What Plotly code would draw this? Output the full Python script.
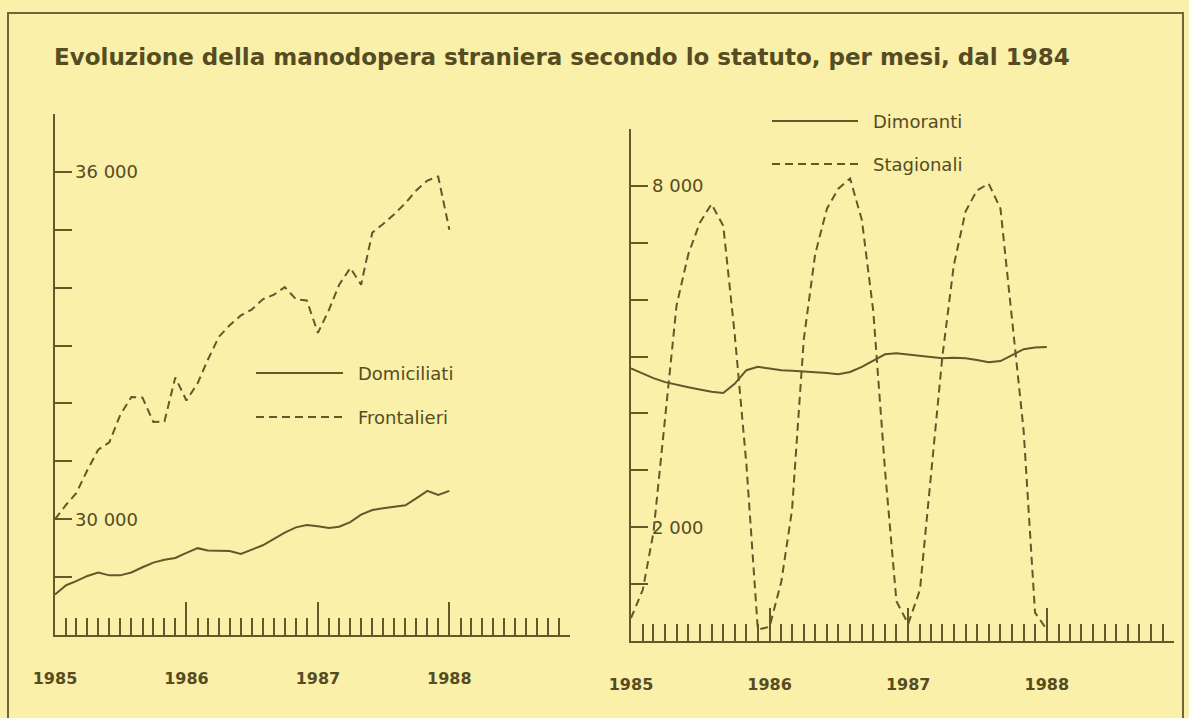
import pandas as pd
import plotly.graph_objects as go

# monthly observations, Jan 1985 - Jan 1988
months = pd.date_range("1985-01-01", periods=37, freq="MS")

domiciliati = [28700, 28860, 28930, 29020, 29080, 29030, 29030, 29080, 29170, 29250,
               29300, 29330, 29420, 29500, 29460, 29450, 29450, 29400, 29480, 29550,
               29660, 29770, 29860, 29900, 29880, 29850, 29870, 29950, 30080, 30160,
               30190, 30220, 30240, 30360, 30490, 30420, 30490]
frontalieri = [30000, 30250, 30450, 30850, 31200, 31330, 31800, 32110, 32100, 31680,
               31690, 32450, 32050, 32350, 32750, 33150, 33350, 33520, 33620, 33800,
               33880, 34010, 33800, 33780, 33220, 33620, 34050, 34340, 34050, 34950,
               35100, 35270, 35460, 35680, 35850, 35920, 35000]
dimoranti = [4790, 4700, 4620, 4550, 4500, 4460, 4420, 4380, 4360, 4520,
             4760, 4820, 4790, 4760, 4750, 4740, 4720, 4710, 4690, 4730,
             4820, 4930, 5040, 5060, 5040, 5010, 4990, 4970, 4980, 4970,
             4940, 4900, 4920, 5030, 5130, 5160, 5170]
stagionali = [400, 900, 1900, 3900, 5900, 6800, 7350, 7680, 7300, 5400,
              3100, 200, 250, 1050, 2300, 5300, 6800, 7600, 7950, 8130,
              7400, 5800, 3000, 700, 300, 900, 2900, 5000, 6600, 7550,
              7920, 8040, 7600, 5700, 3700, 500, 200]

# y labels are written inside the frame, to the right of the ticks
left_labelled = [30000, 36000]
left_labels = ["30 000", "36 000"]
right_labelled = [2000, 8000]
right_labels = ["2 000", "8 000"]

title = "Evoluzione della manodopera straniera secondo lo statuto, per mesi, dal 1984"

W, H = 1189, 718
BG = "#faf0a9"
INK = "#62582a"
TXT = "#564c22"


def px_x(p):
    return p / W


def px_y(p):
    return 1 - p / H


fig = go.Figure()

line = dict(color=INK, width=2)
dash = dict(color=INK, width=2, dash="8px,5px")

fig.add_trace(go.Scatter(x=months, y=domiciliati, mode="lines", line=line,
                         name="Domiciliati", xaxis="x", yaxis="y"))
fig.add_trace(go.Scatter(x=months, y=frontalieri, mode="lines", line=dash,
                         name="Frontalieri", xaxis="x", yaxis="y"))
fig.add_trace(go.Scatter(x=months, y=dimoranti, mode="lines", line=line,
                         name="Dimoranti", xaxis="x2", yaxis="y2"))
fig.add_trace(go.Scatter(x=months, y=stagionali, mode="lines", line=dash,
                         name="Stagionali", xaxis="x2", yaxis="y2"))

xcommon = dict(
    type="date", range=["1985-01-01", "1988-12-01"], automargin=False,
    showline=True, linecolor=INK, linewidth=2, showgrid=False, zeroline=False,
    tickmode="linear", tick0="1985-01-01", dtick="M12", tickformat="%Y",
    ticks="inside", ticklen=33, tickwidth=2, tickcolor=INK,
    ticklabelstandoff=28,
    tickfont=dict(family="DejaVu Sans", size=16, color=TXT, weight="bold"),
    minor=dict(dtick="M1", tick0="1985-01-01", ticks="inside", ticklen=17,
               tickwidth=2, tickcolor=INK, showgrid=False),
)
ycommon = dict(
    automargin=False,
    showline=True, linecolor=INK, linewidth=2, showgrid=False, zeroline=False,
    tickmode="linear", dtick=1000, ticks="inside", ticklen=17, tickwidth=2,
    tickcolor=INK, showticklabels=False,
)

fig.update_layout(
    width=W, height=H,
    paper_bgcolor=BG, plot_bgcolor=BG,
    margin=dict(l=0, r=0, t=0, b=0, autoexpand=False),
    showlegend=False,
    xaxis=dict(xcommon, domain=[px_x(55), px_x(570)], anchor="y"),
    yaxis=dict(ycommon, domain=[px_y(635), px_y(114)], range=[28000, 37000],
               tick0=28000, anchor="x"),
    xaxis2=dict(xcommon, domain=[px_x(631), px_x(1174)], anchor="y2"),
    yaxis2=dict(ycommon, domain=[px_y(641), px_y(129)], range=[0, 9000],
                tick0=0, anchor="x2"),
)

for vals, labels, yref, xpix in [(left_labelled, left_labels, "y", 73),
                                 (right_labelled, right_labels, "y2", 650)]:
    for v, t in zip(vals, labels):
        fig.add_annotation(text=t, xref="paper", yref=yref, x=px_x(xpix), y=v,
                           xanchor="left", yanchor="middle", showarrow=False,
                           font=dict(family="DejaVu Sans", size=18, color=TXT))

# frame
fig.add_shape(type="rect", xref="paper", yref="paper",
              x0=px_x(8), x1=px_x(1183), y0=px_y(740), y1=px_y(13),
              line=dict(color="#6f6535", width=2))

fig.add_annotation(text=title, xref="paper", yref="paper", x=px_x(52), y=px_y(57),
                   xanchor="left", yanchor="middle", showarrow=False,
                   font=dict(family="DejaVu Sans", size=23, color=TXT, weight="bold"))

# legend keys drawn by hand (long line samples as in the original)
legend_items = [
    ("Domiciliati", 256, 343, 373, line),
    ("Frontalieri", 256, 343, 417, dash),
    ("Dimoranti", 772, 858, 121, line),
    ("Stagionali", 772, 858, 164, dash),
]
for name, xa, xb, yy, st in legend_items:
    fig.add_shape(type="line", xref="paper", yref="paper",
                  x0=px_x(xa), x1=px_x(xb), y0=px_y(yy), y1=px_y(yy), line=st)
    fig.add_annotation(text=name, xref="paper", yref="paper", x=px_x(xb + 13), y=px_y(yy),
                       xanchor="left", yanchor="middle", showarrow=False,
                       font=dict(family="DejaVu Sans", size=18, color=TXT))

fig.write_html("out.html", config={"displayModeBar": False},
               post_script="document.body.style.margin='0';")
